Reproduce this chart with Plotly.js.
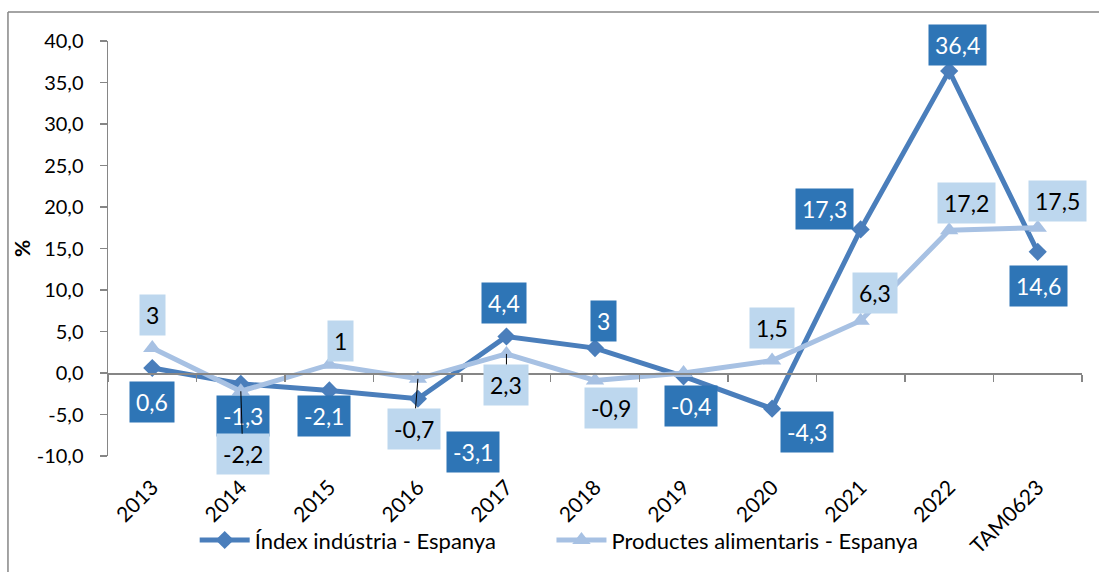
<!DOCTYPE html>
<html>
<head>
<meta charset="utf-8">
<script src="https://cdn.plot.ly/plotly-3.0.1.min.js"></script>
<style>
html,body{margin:0;padding:0;background:#fff;}
#chart{width:1099px;height:572px;}
</style>
</head>
<body>
<div id="chart"></div>
<script>
const categories = ['2013','2014','2015','2016','2017','2018','2019','2020','2021','2022','TAM0623'];
const industria = [0.6, -1.3, -2.1, -3.1, 4.4, 3, -0.4, -4.3, 17.3, 36.4, 14.6];
const alimentaris = [3, -2.2, 1, -0.7, 2.3, -0.9, 0, 1.5, 6.3, 17.2, 17.5];
const industriaLabels = ['0,6','-1,3','-2,1','-3,1','4,4','3','-0,4','-4,3','17,3','36,4','14,6'];
const alimentarisLabels = ['3','-2,2','1','-0,7','2,3','-0,9','','1,5','6,3','17,2','17,5'];
const seriesNames = ['Índex indústria - Espanya', 'Productes alimentaris - Espanya'];
const yTickVals = [-10, -5, 0, 5, 10, 15, 20, 25, 30, 35, 40];
const yTickText = ['-10,0','-5,0','0,0','5,0','10,0','15,0','20,0','25,0','30,0','35,0','40,0'];

// label placement offsets (pixels) and leader flags — layout only
const darkOffsets = [[0,34],[2,32],[-5,26],[55,53],[-2,-33],[8,-27],[7,30],[35,23],[-36,-20],[8,-26],[1,34]];
const lightOffsets = [[0,-33],[2,63],[11,-24],[-4,50],[0,31],[16,28],[0,0],[0,-33],[14,-28],[17,-27],[20,-27]];
const lightLeader = [false,true,false,true,true,false,false,false,false,false,false];

const DARK_LINE = '#4A7EBB', DARK_BOX = '#2E75B6';
const LIGHT_LINE = '#A7C1E3', LIGHT_BOX = '#BDD7EE';
const FONT = 'Lato, "Open Sans", sans-serif';
const AXIS = '#868686';

const traces = [
  {x: categories, y: industria, name: seriesNames[0], type: 'scatter', mode: 'lines+markers',
   legend: 'legend',
   line: {color: DARK_LINE, width: 5}, marker: {symbol: 'diamond', size: 14, color: DARK_LINE}},
  {x: categories, y: alimentaris, name: seriesNames[1], type: 'scatter', mode: 'lines+markers',
   legend: 'legend2',
   line: {color: LIGHT_LINE, width: 5}, marker: {symbol: 'triangle-up', size: 16, color: LIGHT_LINE}},
  {x: [null], y: [null], xaxis: 'x2', yaxis: 'y', showlegend: false, hoverinfo: 'skip', mode: 'markers'}
];

const annotations = [];
industria.forEach((v, i) => {
  annotations.push({x: i, y: v, xref: 'x', yref: 'y', text: industriaLabels[i],
    showarrow: true, arrowcolor: 'rgba(0,0,0,0)', arrowwidth: 0.1, arrowhead: 0,
    ax: darkOffsets[i][0], ay: darkOffsets[i][1],
    bgcolor: DARK_BOX, borderpad: 6, font: {family: FONT, size: 23, color: '#ffffff'}});
});
alimentaris.forEach((v, i) => {
  if (!alimentarisLabels[i]) return;
  annotations.push({x: i, y: v, xref: 'x', yref: 'y', text: alimentarisLabels[i],
    showarrow: true, arrowcolor: lightLeader[i] ? '#000000' : 'rgba(0,0,0,0)', arrowwidth: 1, arrowhead: 0,
    standoff: 0, ax: lightOffsets[i][0], ay: lightOffsets[i][1],
    bgcolor: LIGHT_BOX, borderpad: 6, font: {family: FONT, size: 23, color: '#000000'}});
});

const legendBase = {orientation: 'h', y: -0.2, yanchor: 'middle', xanchor: 'left',
  bgcolor: 'rgba(0,0,0,0)', font: {family: FONT, size: 22, color: '#000'}, itemwidth: 50};

const layout = {
  width: 1099, height: 572,
  margin: {l: 108, r: 17, t: 41, b: 115},
  paper_bgcolor: '#ffffff', plot_bgcolor: 'rgba(0,0,0,0)',
  separators: ',.',
  font: {family: FONT, size: 20, color: '#000'},
  showlegend: true,
  legend: Object.assign({}, legendBase, {x: 0.089}),
  legend2: Object.assign({}, legendBase, {x: 0.4553}),
  xaxis: {type: 'category', range: [-0.5, 10.5], showline: false, ticks: '', showgrid: false,
          zeroline: false, tickangle: -45, ticklabelstandoff: 14,
          tickfont: {family: FONT, size: 21, color: '#000'}},
  yaxis: {range: [-10, 40], tickmode: 'array', tickvals: yTickVals, ticktext: yTickText,
          showgrid: false, zeroline: false,
          showline: true, linecolor: AXIS, linewidth: 1.5, ticks: 'outside', ticklen: 7,
          tickcolor: AXIS, tickwidth: 1.5, ticklabelstandoff: 12,
          tickfont: {family: FONT, size: 20, color: '#000'},
          title: {text: '%', font: {family: FONT, size: 21, color: '#000', weight: 'bold'}, standoff: 0}},
  xaxis2: {overlaying: 'x', anchor: 'free', position: 0.2, side: 'bottom', range: [-0.5, 10.5],
           tick0: -0.5, dtick: 1,
           showline: true, linecolor: AXIS, linewidth: 1.5, ticks: 'outside', ticklen: 7,
           tickcolor: AXIS, tickwidth: 1.5, showticklabels: false, showgrid: false, zeroline: false},
  annotations: annotations,
  shapes: [
    {type: 'line', xref: 'paper', yref: 'paper', x0: -0.1027, x1: -0.1027, y0: 1.0697, y1: -0.4,
     line: {color: AXIS, width: 1.5}},
    {type: 'line', xref: 'paper', yref: 'paper', x0: -0.1027, x1: 1.1, y0: 1.0697, y1: 1.0697,
     line: {color: AXIS, width: 1.5}}
  ]
};

Plotly.newPlot('chart', traces, layout, {displayModeBar: false, staticPlot: true});
</script>
</body>
</html>
